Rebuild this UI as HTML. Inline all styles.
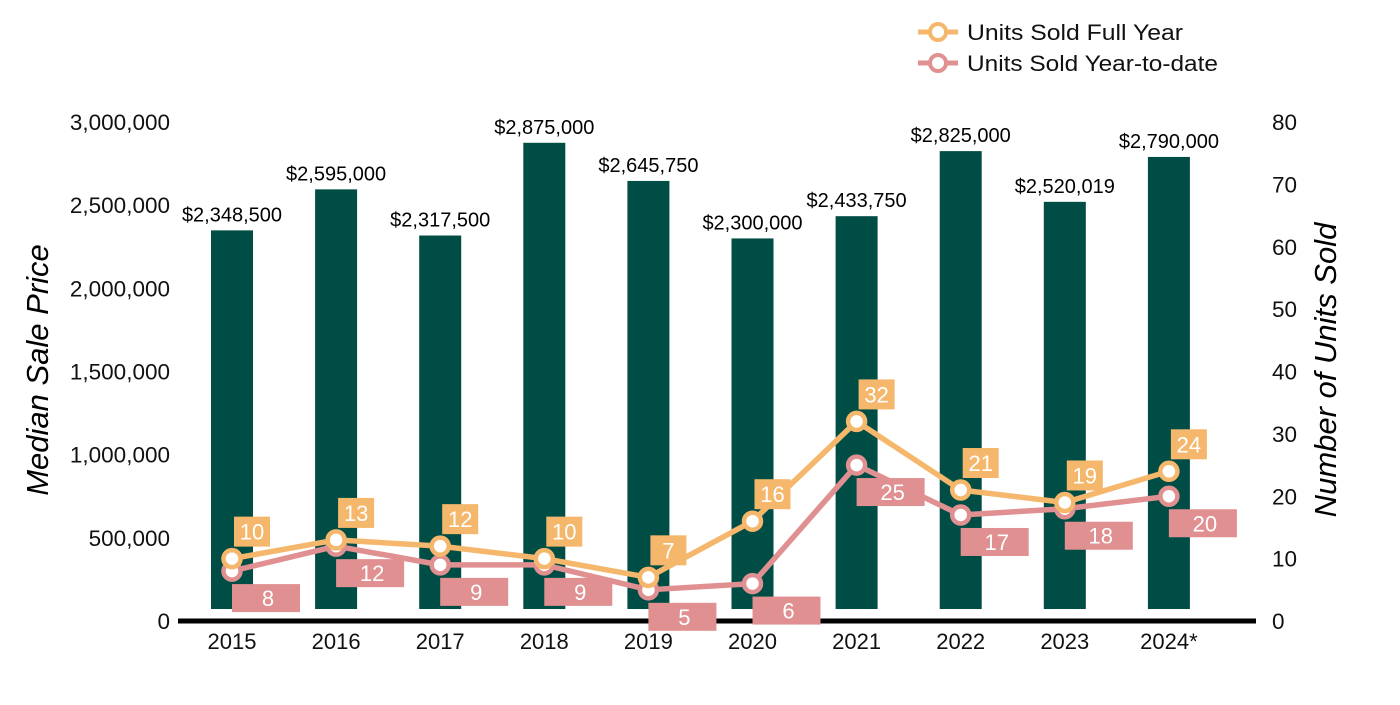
<!DOCTYPE html>
<html><head><meta charset="utf-8"><style>
body{margin:0;background:#fff;font-family:"Liberation Sans",sans-serif}
svg text{font-family:"Liberation Sans",sans-serif}
</style></head><body>
<svg id="c" width="1400" height="700">
<g id="legend">
 <g>
  <line x1="918" y1="32" x2="958" y2="32" stroke="#f5b76b" stroke-width="5"/>
  <circle cx="938" cy="32" r="8" fill="#fff" stroke="#f5b76b" stroke-width="4"/>
  <text x="967" y="40" font-size="22" fill="#111" textLength="216" lengthAdjust="spacingAndGlyphs">Units Sold Full Year</text>
 </g>
 <g>
  <line x1="918" y1="63" x2="958" y2="63" stroke="#e09090" stroke-width="5"/>
  <circle cx="938" cy="63" r="8" fill="#fff" stroke="#e09090" stroke-width="4"/>
  <text x="967" y="71" font-size="22" fill="#111" textLength="251" lengthAdjust="spacingAndGlyphs">Units Sold Year-to-date</text>
 </g>
</g>
<text transform="translate(48,370) rotate(-90)" text-anchor="middle" font-size="31" font-style="italic" fill="#000">Median Sale Price</text>
<text transform="translate(1336,370) rotate(-90)" text-anchor="middle" font-size="31" font-style="italic" fill="#000">Number of Units Sold</text>
</svg>
<script>
const years=["2015","2016","2017","2018","2019","2020","2021","2022","2023","2024*"];
const prices=[2348500,2595000,2317500,2875000,2645750,2300000,2433750,2825000,2520019,2790000];
const fullYear=[10,13,12,10,7,16,32,21,19,24];
const ytd=[8,12,9,9,5,6,25,17,18,20];
const leftTicks=[0,500000,1000000,1500000,2000000,2500000,3000000];
const rightTicks=[0,10,20,30,40,50,60,70,80];
const NS="http://www.w3.org/2000/svg",svg=document.getElementById('c');
const y0=621,yTop=122;
const yL=v=>y0-v/3000000*(y0-yTop);
const yR=v=>y0-v/80*(y0-yTop);
const xC=i=>232+i*104.1;
function mk(t,a,p){const e=document.createElementNS(NS,t);for(const k in a)e.setAttribute(k,a[k]);(p||svg).appendChild(e);return e;}
const fmt=n=>n.toLocaleString('en-US');
leftTicks.forEach(v=>{const t=mk('text',{x:170,y:yL(v)+8,'text-anchor':'end','font-size':22.5,fill:'#111'});t.textContent=fmt(v);

});
rightTicks.forEach(v=>{const t=mk('text',{x:1272,y:yR(v)+8,'font-size':22.5,fill:'#111'});t.textContent=v;

});
prices.forEach((p,i)=>{const yt=yL(p);
const b=mk('rect',{x:xC(i)-21,y:yt,width:42,height:609-yt,fill:'#004d45'});


const t=mk('text',{x:xC(i),y:yt-9,'text-anchor':'middle','font-size':20,fill:'#000'});t.textContent='$'+fmt(p);


const xl=mk('text',{x:xC(i),y:649,'text-anchor':'middle','font-size':22,fill:'#111'});xl.textContent=years[i];

});
const ax=mk('line',{x1:178,y1:621,x2:1256,y2:621,stroke:'#000','stroke-width':5});


function series(vals,color,name){
 const pts=vals.map((v,i)=>xC(i)+','+yR(v)).join(' ');
 const l=mk('polyline',{points:pts,fill:'none',stroke:color,'stroke-width':5.5,'stroke-linejoin':'round'});
 
 
 vals.forEach((v,i)=>{const c=mk('circle',{cx:xC(i),cy:yR(v),r:8.5,fill:'#fff',stroke:color,'stroke-width':4.5});
 
 });
}
series(ytd,'#e09090','ytd');
series(fullYear,'#f5b76b','full-year');
ytd.forEach((v,i)=>{const py=yR(v);
 const r=mk('rect',{x:xC(i),y:py+13,width:68,height:28,fill:'#e09090'});
 
 
 const t=mk('text',{x:xC(i)+36,y:py+35,'text-anchor':'middle','font-size':22,fill:'#fff'});t.textContent=v;
 
 });
fullYear.forEach((v,i)=>{const py=yR(v);
 const r=mk('rect',{x:xC(i)+2,y:py-42,width:36,height:30,fill:'#f5b76b'});
 
 
 const t=mk('text',{x:xC(i)+20,y:py-19,'text-anchor':'middle','font-size':22,fill:'#fff'});t.textContent=v;
 
 });
</script>
</body></html>
